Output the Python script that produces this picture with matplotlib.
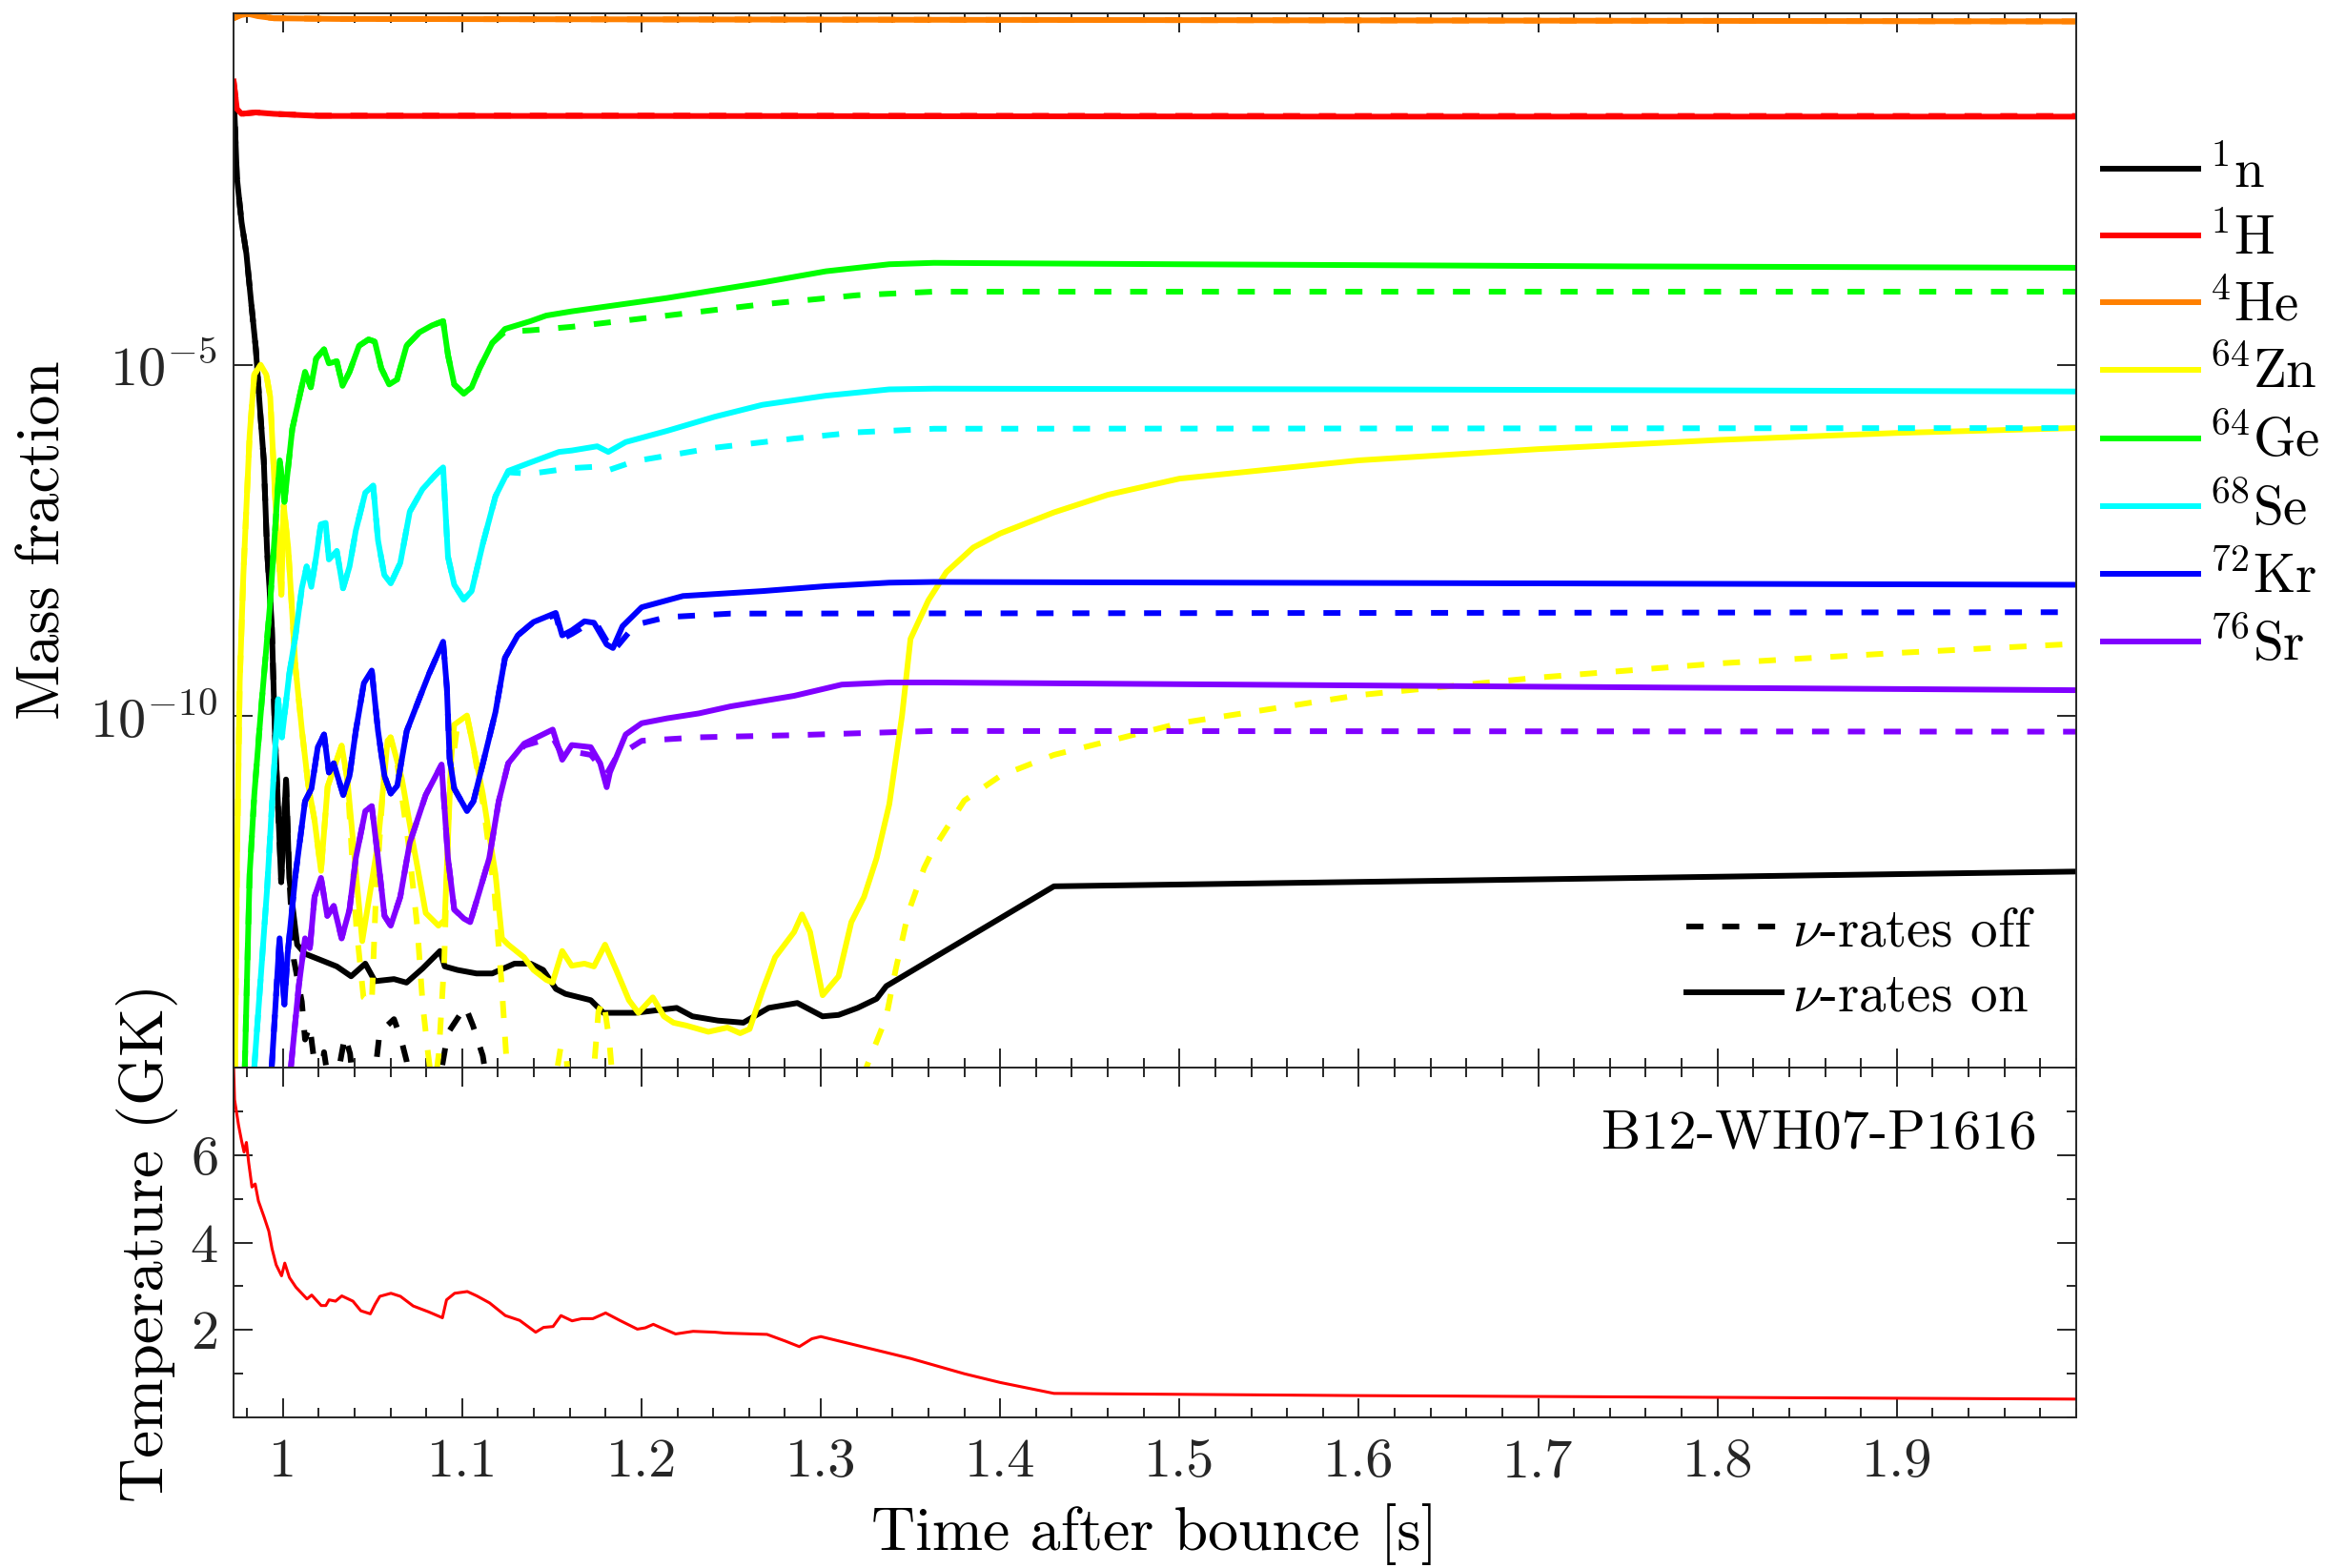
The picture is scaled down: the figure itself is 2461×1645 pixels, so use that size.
import numpy as np
import matplotlib
matplotlib.use("Agg")
import matplotlib.pyplot as plt
from matplotlib.lines import Line2D
from matplotlib.ticker import FixedLocator, MultipleLocator, NullLocator, FuncFormatter

# ---- data (log10 of mass fraction) ----
t_n = [0.9726, 0.9744, 0.977, 0.9797, 0.9823, 0.985, 0.9868, 0.9894, 0.9912, 0.9938, 0.9956, 0.9982,
       0.9991, 1.0018, 1.0036, 1.008, 1.0124, 1.0213, 1.0301, 1.0381, 1.046, 1.0514, 1.062, 1.069,
       1.0779, 1.0877, 1.0903, 1.0974, 1.108, 1.1168, 1.1292, 1.1381, 1.1452, 1.1523, 1.1576, 1.1717,
       1.1788, 1.1965, 1.2196, 1.2284, 1.2426, 1.2568, 1.2709, 1.2869, 1.301, 1.3099, 1.3205, 1.3311,
       1.3365, 1.43, 2.0]
n_on = [-1.1, -2.33, -2.97, -3.42, -4.10, -4.78, -5.46, -6.36, -7.63, -8.67, -10.23, -11.79,
        -12.36, -10.9, -12.3, -13.25, -13.38, -13.47, -13.56, -13.70, -13.52, -13.77, -13.74, -13.79,
        -13.59, -13.34, -13.56, -13.61, -13.66, -13.66, -13.52, -13.52, -13.61, -13.88, -13.95, -14.04,
        -14.22, -14.22, -14.15, -14.27, -14.33, -14.36, -14.15, -14.08, -14.27, -14.25, -14.15, -14.02,
        -13.84, -12.42, -12.21]
t_n_off = [1.0062, 1.0106, 1.0124, 1.015, 1.0177, 1.021, 1.023, 1.026, 1.030, 1.0346, 1.0375, 1.040,
           1.050, 1.054, 1.062, 1.066, 1.069, 1.072, 1.086, 1.092, 1.1018, 1.106, 1.1115, 1.115, 2.0]
n_off = [-13.47, -14.06, -14.6, -14.4, -14.95, -15.2, -14.78, -15.3, -15.2, -14.55, -14.8, -15.4,
         -15.4, -14.5, -14.31, -14.6, -14.9, -15.4, -15.4, -14.51, -14.13, -14.4, -14.83, -15.4, -15.4]

t_h = [0.9726, 0.9744, 0.977, 0.985, 0.995, 1.02, 1.2, 1.6, 2.0]
h_on = [-0.97, -1.36, -1.43, -1.41, -1.43, -1.46, -1.46, -1.47, -1.47]
h_off = [-0.97, -1.36, -1.43, -1.41, -1.43, -1.455, -1.455, -1.46, -1.46]

t_he = [0.9726, 0.977, 0.981, 0.986, 0.995, 1.03, 1.3, 1.6, 2.0]
he_on = [-0.07, -0.02, -0.01, -0.04, -0.07, -0.08, -0.09, -0.10, -0.115]

t_zn = [0.9732, 0.9745, 0.976, 0.978, 0.9815, 0.9841, 0.9876, 0.9908, 0.993, 0.9947, 0.9965, 0.9992,
        1.0005, 1.003, 1.0071, 1.0107, 1.0142, 1.0177, 1.0213, 1.025, 1.0328, 1.036, 1.0443, 1.0531,
        1.0584, 1.0602, 1.0664, 1.0726, 1.0797, 1.0868, 1.0903, 1.0939, 1.0956, 1.1027, 1.1115, 1.1186,
        1.1222, 1.1257, 1.1345, 1.1398, 1.1469, 1.1504, 1.1558, 1.1611, 1.1682, 1.1735, 1.1797, 1.1859,
        1.193, 1.1983, 1.2063, 1.2125, 1.2178, 1.2249, 1.2373, 1.2479, 1.255, 1.2603, 1.2674, 1.2745,
        1.2851, 1.2895, 1.294, 1.301, 1.3099, 1.317, 1.3241, 1.3311, 1.3382, 1.3453, 1.35, 1.36, 1.37,
        1.385, 1.40, 1.43, 1.46, 1.5, 1.6, 1.7, 1.8, 1.9, 2.0]
zn_on = [-15.5, -12.0, -9.5, -8.0, -6.0, -5.14, -5.0, -5.14, -5.46, -6.36, -7.27, -8.27,
         -7.0, -7.6, -9.31, -10.21, -10.98, -11.48, -12.2, -11.0, -10.42, -10.9, -13.2, -11.8,
         -10.35, -10.3, -10.89, -11.8, -12.8, -12.98, -12.9, -10.6, -10.12, -9.99, -11.1, -12.25,
         -13.16, -13.25, -13.43, -13.61, -13.75, -13.79, -13.34, -13.55, -13.52, -13.56, -13.25, -13.61,
         -14.04, -14.22, -14.0, -14.27, -14.36, -14.40, -14.49, -14.43, -14.51, -14.45, -13.91, -13.43,
         -13.07, -12.82, -13.07, -13.97, -13.70, -12.93, -12.57, -12.02, -11.25, -9.99, -8.9, -8.35, -7.95,
         -7.6, -7.4, -7.1, -6.85, -6.62, -6.36, -6.2, -6.07, -5.97, -5.9]
t_zn_off = [1.041, 1.045, 1.0496, 1.052, 1.057, 1.060, 1.064, 1.070, 1.075, 1.078, 1.081, 1.084,
            1.087, 1.090, 1.093, 1.097, 1.1027, 1.106, 1.112, 1.118, 1.122, 1.125, 1.128, 1.150,
            1.155, 1.158, 1.16, 1.172, 1.176, 1.1788, 1.182, 1.185, 1.32, 1.3258, 1.3364, 1.3417,
            1.3488, 1.3576, 1.363, 1.38, 1.40, 1.43, 1.5, 1.6, 1.7, 1.8, 1.9, 2.0]
zn_off = [-13.0, -14.0, -14.09, -12.5, -10.6, -10.3, -10.7, -11.8, -13.0, -14.1, -14.8, -15.4,
          -14.8, -13.5, -11.0, -10.2, -10.0, -10.4, -11.3, -12.5, -13.8, -15.0, -15.5, -15.5,
          -14.7, -14.8, -15.5, -15.5, -14.2, -14.04, -14.6, -15.5, -15.5, -14.97, -14.29, -13.61,
          -12.79, -12.16, -11.88, -11.2, -10.85, -10.55, -10.1, -9.7, -9.45, -9.25, -9.1, -8.97]

t_ge = [0.9788, 0.9815, 0.9841, 0.9876, 0.9929, 0.9983, 1.0009, 1.0053, 1.0124, 1.0156, 1.0186, 1.023,
        1.0257, 1.0301, 1.0333, 1.0372, 1.0425, 1.0478, 1.0513, 1.0549, 1.0593, 1.0637, 1.069, 1.0761,
        1.0832, 1.0894, 1.0921, 1.0956, 1.1009, 1.1053, 1.1097, 1.1168, 1.1239, 1.1381, 1.1469, 1.1611,
        1.2143, 1.2674, 1.3028, 1.3382, 1.363, 1.5, 1.75, 2.0]
ge_on = [-15.0, -12.25, -11.12, -9.99, -8.40, -6.36, -6.95, -5.91, -5.10, -5.32, -4.91, -4.78,
         -4.98, -4.95, -5.30, -5.10, -4.73, -4.64, -4.67, -5.05, -5.28, -5.21, -4.73, -4.54,
         -4.44, -4.38, -4.86, -5.28, -5.41, -5.32, -5.05, -4.69, -4.49, -4.38, -4.30, -4.24,
         -4.05, -3.83, -3.67, -3.57, -3.55, -3.57, -3.60, -3.62]
t_ge_off = [1.1239, 1.1381, 1.1611, 1.2143, 1.2674, 1.3205, 1.363, 2.0]
ge_off = [-4.53, -4.51, -4.46, -4.30, -4.14, -4.01, -3.96, -3.96]

t_se = [0.9841, 0.9912, 0.9974, 0.9995, 1.0036, 1.0071, 1.0106, 1.0133, 1.0159, 1.0186, 1.0212, 1.0239,
        1.0257, 1.0301, 1.0336, 1.0372, 1.0407, 1.046, 1.0504, 1.0531, 1.0566, 1.0602, 1.0655, 1.0708,
        1.0779, 1.085, 1.0894, 1.0921, 1.0956, 1.1009, 1.1053, 1.1115, 1.1186, 1.1257, 1.1381, 1.154,
        1.1611, 1.1753, 1.1815, 1.1912, 1.2143, 1.2408, 1.2674, 1.3028, 1.3382, 1.363, 1.6, 2.0]
se_on = [-15.0, -12.47, -9.76, -10.3, -9.40, -8.85, -8.18, -7.87, -8.16, -7.73, -7.27, -7.25,
         -7.77, -7.65, -8.18, -7.87, -7.36, -6.82, -6.72, -7.50, -7.99, -8.11, -7.82, -7.09,
         -6.77, -6.57, -6.46, -7.73, -8.13, -8.34, -8.22, -7.55, -6.87, -6.51, -6.39, -6.24,
         -6.22, -6.16, -6.24, -6.10, -5.94, -5.74, -5.57, -5.44, -5.35, -5.34, -5.35, -5.38]
t_se_off = [1.1257, 1.1381, 1.1611, 1.1753, 1.1815, 1.1965, 1.2408, 1.2851, 1.3205, 1.363, 2.0]
se_off = [-6.53, -6.55, -6.47, -6.45, -6.50, -6.37, -6.18, -6.05, -5.96, -5.91, -5.90]

t_kr = [0.9938, 0.9982, 1.0009, 1.0027, 1.0071, 1.0124, 1.016, 1.0195, 1.023, 1.0257, 1.0284, 1.0337,
        1.0372, 1.0407, 1.0452, 1.0496, 1.0531, 1.0567, 1.0602, 1.0638, 1.0691, 1.0761, 1.0815, 1.0894,
        1.0915, 1.093, 1.0956, 1.1027, 1.1063, 1.1116, 1.1186, 1.1239, 1.131, 1.1398, 1.1522, 1.1558,
        1.1611, 1.1682, 1.1735, 1.1806, 1.1841, 1.1894, 1.2001, 1.2231, 1.2674, 1.3028, 1.3382, 1.363,
        1.7, 2.0]
kr_on = [-15.0, -13.16, -14.1, -13.38, -12.25, -11.21, -11.03, -10.44, -10.26, -10.80, -10.67, -11.12,
         -10.85, -10.21, -9.53, -9.35, -10.21, -10.85, -11.10, -10.99, -10.21, -9.75, -9.40, -8.94,
         -9.6, -10.6, -11.03, -11.35, -11.21, -10.67, -9.94, -9.17, -8.85, -8.66, -8.53, -8.85,
         -8.78, -8.65, -8.67, -8.98, -9.03, -8.72, -8.45, -8.29, -8.22, -8.15, -8.10, -8.09,
         -8.11, -8.13]
t_kr_off = [1.1522, 1.1558, 1.1611, 1.1682, 1.1753, 1.1841, 1.1965, 1.2143, 1.2497, 2.0]
kr_off = [-8.56, -8.9, -8.83, -8.72, -8.7, -9.08, -8.70, -8.59, -8.54, -8.52]

t_sr = [1.0045, 1.0089, 1.0124, 1.0151, 1.0177, 1.0213, 1.0248, 1.0284, 1.0328, 1.0372, 1.0407, 1.046,
        1.0496, 1.0531, 1.0567, 1.0602, 1.0655, 1.0708, 1.0797, 1.0885, 1.0921, 1.0956, 1.101, 1.1045,
        1.1098, 1.1151, 1.1204, 1.1257, 1.1346, 1.1505, 1.1558, 1.1611, 1.1717, 1.177, 1.1806, 1.1824,
        1.1912, 1.2001, 1.2143, 1.232, 1.2497, 1.2851, 1.3117, 1.3382, 1.363, 1.7, 2.0]
sr_on = [-15.0, -13.84, -13.16, -13.30, -12.57, -12.30, -12.84, -12.70, -13.16, -12.75, -12.02, -11.35,
         -11.28, -12.02, -12.84, -12.98, -12.57, -11.80, -11.12, -10.69, -12.02, -12.75, -12.88, -12.93,
         -12.48, -12.02, -11.21, -10.67, -10.39, -10.19, -10.62, -10.41, -10.44, -10.67, -11.01, -10.8,
         -10.26, -10.10, -10.03, -9.96, -9.86, -9.71, -9.55, -9.52, -9.52, -9.58, -9.63]
t_sr_off = [1.1346, 1.1505, 1.1558, 1.1611, 1.1717, 1.1806, 1.186, 1.2001, 1.232, 1.2851, 1.363, 2.0]
sr_off = [-10.42, -10.30, -10.55, -10.5, -10.55, -10.82, -10.58, -10.35, -10.30, -10.27, -10.21, -10.22]

# temperature in GK
t_temp = [0.9726, 0.9731, 0.9753, 0.977, 0.9784, 0.9797, 0.981, 0.9828, 0.9846, 0.9864, 0.9896, 0.9922,
          0.994, 0.9963, 0.9993, 1.0011, 1.0037, 1.0073, 1.0135, 1.0161, 1.0214, 1.024, 1.0258, 1.0294,
          1.0329, 1.0391, 1.0435, 1.0488, 1.0515, 1.0541, 1.0603, 1.0656, 1.0727, 1.0816, 1.089, 1.0913,
          1.0958, 1.1029, 1.1082, 1.1153, 1.1241, 1.1321, 1.141, 1.1454, 1.1507, 1.1551, 1.1613, 1.1667,
          1.1729, 1.18, 1.1879, 1.1977, 1.2021, 1.2066, 1.211, 1.219, 1.2288, 1.2411, 1.2465, 1.27,
          1.28, 1.288, 1.295, 1.30, 1.31, 1.33, 1.35, 1.38, 1.40, 1.43, 1.6, 1.8, 2.0]
temp = [8.0, 7.27, 6.69, 6.33, 6.07, 6.29, 5.82, 5.27, 5.34, 4.95, 4.58, 4.26,
        3.86, 3.49, 3.24, 3.53, 3.20, 2.98, 2.71, 2.80, 2.56, 2.56, 2.69, 2.66,
        2.78, 2.66, 2.44, 2.37, 2.59, 2.77, 2.84, 2.77, 2.55, 2.41, 2.28, 2.69,
        2.84, 2.88, 2.78, 2.62, 2.33, 2.22, 1.95, 2.06, 2.08, 2.33, 2.21, 2.26,
        2.26, 2.39, 2.22, 2.02, 2.05, 2.13, 2.05, 1.91, 1.97, 1.95, 1.93, 1.9,
        1.75, 1.62, 1.8, 1.85, 1.75, 1.55, 1.35, 1.0, 0.8, 0.55, 0.5, 0.46, 0.42]

labels = [r"$^{1}$n", r"$^{1}$H", r"$^{4}$He", r"$^{64}$Zn", r"$^{64}$Ge", r"$^{68}$Se", r"$^{72}$Kr", r"$^{76}$Sr"]
colors = ["#000000", "#FF0000", "#FF8000", "#FFFF00", "#00FF00", "#00FFFF", "#0000FF", "#8000FF"]

plt.rcParams.update({
    "font.family": "cmr10",
    "mathtext.fontset": "cm",
    "axes.unicode_minus": False,
    "axes.formatter.use_mathtext": True,
})

LW = 4.3
DASH = (0, (3.0, 3.3))
AXC = "#262626"


def on_off(t_on, v_on, t_off, v_off):
    # off-run shares the on-run before it splits away
    t_on = np.array(t_on)
    keep = t_on < t_off[0]
    return np.concatenate([t_on[keep], t_off]), np.concatenate([np.array(v_on)[keep], v_off])


series = [
    (t_n, n_on, *on_off(t_n, n_on, t_n_off, n_off)),
    (t_h, h_on, t_h, h_off),
    (t_he, he_on, t_he, he_on),
    (t_zn, zn_on, *on_off(t_zn, zn_on, t_zn_off, zn_off)),
    (t_ge, ge_on, *on_off(t_ge, ge_on, t_ge_off, ge_off)),
    (t_se, se_on, *on_off(t_se, se_on, t_se_off, se_off)),
    (t_kr, kr_on, *on_off(t_kr, kr_on, t_kr_off, kr_off)),
    (t_sr, sr_on, *on_off(t_sr, sr_on, t_sr_off, sr_off)),
]

fig = plt.figure(figsize=(24.61, 16.45), dpi=100)
ax1 = fig.add_axes([0.0996, 0.3191, 0.7854, 0.6724])
ax2 = fig.add_axes([0.0996, 0.0960, 0.7854, 0.2231], sharex=ax1)

handles = []
for (ta, va, tb, vb), lab, c in zip(series, labels, colors):
    h, = ax1.plot(ta, 10.0 ** np.array(va), color=c, lw=LW, label=lab)
    ax1.plot(tb, 10.0 ** np.array(vb), color=c, lw=LW, ls=DASH)
    handles.append(h)

ax1.set_yscale("log")
ax1.set_ylim(1e-15, 1)
ax1.set_xlim(0.9726, 2.0)
ax1.yaxis.set_major_locator(FixedLocator([1e-10, 1e-5]))
ax1.yaxis.set_minor_locator(NullLocator())
ax1.set_ylabel("Mass fraction", fontsize=46)
ax1.yaxis.set_label_coords(-0.088, 0.5)

ax2.plot(t_temp, temp, color="#FF0000", lw=2.2)
ax2.set_ylim(0, 8)
ax2.yaxis.set_major_locator(FixedLocator([2, 4, 6]))
ax2.yaxis.set_minor_locator(MultipleLocator(1))
ax2.xaxis.set_major_locator(FixedLocator(np.arange(1.0, 1.95, 0.1)))
ax2.xaxis.set_minor_locator(MultipleLocator(0.02))
ax2.xaxis.set_major_formatter(FuncFormatter(lambda x, _: f"{x:g}"))
ax2.set_ylabel("Temperature (GK)", fontsize=47)
ax2.yaxis.set_label_coords(-0.030, 0.5)
ax2.set_xlabel("Time after bounce [s]", fontsize=46)
ax2.xaxis.set_label_coords(0.5, -0.245)

for ax in (ax1, ax2):
    ax.tick_params(which="both", direction="in", top=True, right=True, colors=AXC,
                   width=1.4, labelsize=42)
    ax.tick_params(which="major", length=14.4)
    ax.tick_params(which="minor", length=7.2)
    ax.tick_params(axis="x", pad=16)
    ax.tick_params(axis="y", pad=12)
    for sp in ax.spines.values():
        sp.set_color(AXC)
        sp.set_linewidth(1.4)
ax1.tick_params(labelbottom=False)

fig.legend(handles, labels, loc="upper left", bbox_to_anchor=(0.8965, 0.9056), frameon=False,
           fontsize=41, handlelength=1.75, handletextpad=0.2, labelspacing=0.29,
           borderpad=0, borderaxespad=0)

style_handles = [Line2D([], [], color="k", lw=LW, ls=DASH), Line2D([], [], color="k", lw=LW)]
ax1.legend(style_handles, [r"$\nu$-rates off", r"$\nu$-rates on"], loc="lower right",
           bbox_to_anchor=(0.978, 0.0435), frameon=False, fontsize=41, handlelength=1.75,
           handletextpad=0.2, labelspacing=0.31, borderpad=0, borderaxespad=0)

ax2.text(0.9788, 0.768, "B12-WH07-P1616", transform=ax2.transAxes, ha="right", va="baseline",
         fontsize=42, color="k")

fig.savefig("out.png", dpi=100)
